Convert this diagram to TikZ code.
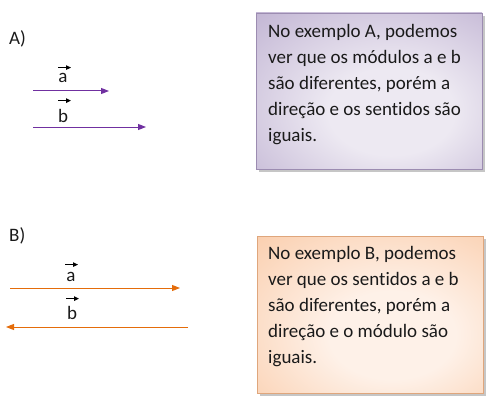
\documentclass[tikz,border=0pt]{standalone}
\usepackage{fontspec}
\setmainfont{Carlito}[Ligatures=NoCommon]
\usepackage{tikz}
\usetikzlibrary{arrows.meta}
\usetikzlibrary{shadows}
\usetikzlibrary{calc}

\definecolor{vecpurple}{HTML}{7030A0}
\definecolor{vecorange}{HTML}{E46C0A}
\definecolor{boxpurple}{HTML}{AD9CC5}
\definecolor{boxpurplelight}{HTML}{EDE9F2}
\definecolor{boxorange}{HTML}{F8B98A}
\definecolor{boxorangelight}{HTML}{FEF1E8}
\definecolor{inktext}{HTML}{1A1A1A}

\pgfdeclareradialshading{notepurple}{\pgfpoint{6bp}{-8bp}}{%
  color(0bp)=(boxpurplelight); color(14bp)=(boxpurplelight);
  color(38bp)=(boxpurple!60!boxpurplelight); color(56bp)=(boxpurple); color(80bp)=(boxpurple)}
\pgfdeclareradialshading{noteorange}{\pgfpoint{6bp}{-8bp}}{%
  color(0bp)=(boxorangelight); color(14bp)=(boxorangelight);
  color(38bp)=(boxorange!55!boxorangelight); color(56bp)=(boxorange); color(80bp)=(boxorange)}

\tikzset{
  vecline/.style={line width=1pt,-{Triangle[length=8pt,width=6pt]}},
  vecmark/.style={black,line width=1.1pt,-{Triangle[length=5pt,width=4.5pt]}},
  veclabel/.style={inner sep=0pt,font=\fontsize{19}{22}\selectfont,text=inktext},
  partlabel/.style={anchor=base west,inner sep=0pt,font=\fontsize{19}{22}\selectfont,text=inktext},
  notebox/.style={draw=#1,line width=0.6pt,drop shadow={shadow xshift=3pt,shadow yshift=-3pt,opacity=0.45}},
  notetext/.style={anchor=north west,inner sep=0pt,align=left,text=inktext,font=\fontsize{19}{25.8}\selectfont}
}

\begin{document}
\begin{tikzpicture}[x=1pt,y=-1pt]
        \useasboundingbox (0,0) rectangle (493,404);

        % example A
        \node[partlabel] (partA) at (9,45) {A)};
        \coordinate (aAstart) at (33,91);
        \coordinate (aAend) at (109,91);
        \coordinate (bAstart) at (33,127);
        \coordinate (bAend) at (146,127);
        \draw[vecline,vecpurple] (aAstart) -- (aAend);
        \draw[vecline,vecpurple] (bAstart) -- (bAend);
        \node[veclabel,anchor=base] (aA) at (63,83) {a};
        \node[veclabel,anchor=base] (bA) at (63,122) {b};
        \draw[vecmark] ($(aA.north)+(-5,-6)$) -- ++(13,0);
        \draw[vecmark] ($(bA.north)+(-5,-8)$) -- ++(13,0);

        \path[notebox=boxpurple!90!black,shading=notepurple]
            (256,13) rectangle (482,169);
        \node[notetext] (noteA) at (268,24.5) {No exemplo A, podemos\\ver que os módulos a e b\\são diferentes, porém a\\direção e os sentidos são\\iguais.};

        % example B
        \node[partlabel] (partB) at (9,241) {B)};
        \coordinate (aBstart) at (10,288);
        \coordinate (aBend) at (180,288);
        \coordinate (bBstart) at (188,327);
        \coordinate (bBend) at (6,327);
        \draw[vecline,vecorange] (aBstart) -- (aBend);
        \draw[vecline,vecorange] (bBstart) -- (bBend);
        \node[veclabel,anchor=base] (aB) at (71,281) {a};
        \node[veclabel,anchor=base] (bB) at (72,319) {b};
        \draw[vecmark] ($(aB.north)+(-6,-7)$) -- ++(13,0);
        \draw[vecmark] ($(bB.north)+(-6,-7)$) -- ++(13,0);

        \path[notebox=boxorange!90!black,shading=noteorange]
            (257,236) rectangle (483,393);
        \node[notetext] (noteB) at (268,246.5) {No exemplo B, podemos\\ver que os sentidos a e b\\são diferentes, porém a\\direção e o módulo são\\iguais.};
\end{tikzpicture}
\end{document}
